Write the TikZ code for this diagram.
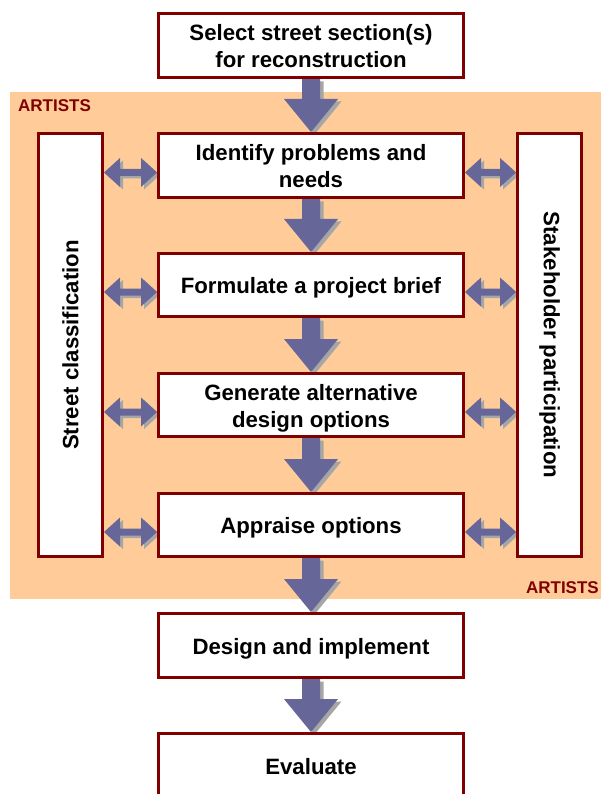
\documentclass[tikz,border=0pt]{standalone}
\usepackage{fontspec}
\setmainfont{Liberation Sans}
\usetikzlibrary{calc}
\definecolor{boxred}{HTML}{800000}
\definecolor{bgorange}{HTML}{FFCC99}
\definecolor{arrowc}{HTML}{666699}
\definecolor{shadowc}{HTML}{A6A6A6}
\pgfdeclarelayer{bg}
\pgfdeclarelayer{arr}
\pgfsetlayers{bg,arr,main}
\newcommand{\flowarrow}[2]{%
  \begin{pgfonlayer}{arr}
  \foreach \dx/\dy/\cc in {3.5/-2.5/shadowc, 0/0/arrowc}{
    \begin{scope}[transform canvas={shift={(\dx pt,\dy pt)}}]
    \fill[\cc] let \p1=(#1.south), \p2=(#2.north) in
      (\x1-9pt,\y1) -- (\x1+9pt,\y1) -- (\x1+9pt,\y2+33pt) -- (\x1+27pt,\y2+33pt)
      -- (\x1,\y2) -- (\x1-27pt,\y2+33pt) -- (\x1-9pt,\y2+33pt) -- cycle;
    \end{scope}
  }
  \end{pgfonlayer}}
\newcommand{\dblarrow}[3]{%
  \begin{pgfonlayer}{arr}
  \foreach \dx/\dy/\cc in {3/-2.5/shadowc, 0/0/arrowc}{
    \begin{scope}[transform canvas={shift={(\dx pt,\dy pt)}}]
    \fill[\cc] let \p1=(#1.east), \p2=(#2.west), \p3=(#3.center) in
      (\x1,\y3-7pt) -- (\x1+16pt,\y3+7.5pt) -- (\x1+16pt,\y3-3.5pt) -- (\x2-16pt,\y3-3.5pt)
      -- (\x2-16pt,\y3+7.5pt) -- (\x2,\y3-7pt) -- (\x2-16pt,\y3-21.5pt) -- (\x2-16pt,\y3-10.5pt)
      -- (\x1+16pt,\y3-10.5pt) -- (\x1+16pt,\y3-21.5pt) -- cycle;
    \end{scope}
  }
  \end{pgfonlayer}}
\begin{document}
\begin{tikzpicture}[x=1pt,y=-1pt,
  stepbox/.style={draw=boxred, line width=3pt, fill=white, minimum width=305pt,
    inner sep=0pt, align=center, text height=20pt, text depth=3pt,
    font=\fontsize{22.2}{27}\selectfont\bfseries},
  twoline/.style={text height=47pt},
  sidebox/.style={draw=boxred, line width=3pt, fill=white, minimum width=64pt,
    minimum height=423pt, inner sep=0pt},
  sidetext/.style={inner sep=0pt, font=\fontsize{22.2}{27}\selectfont\bfseries},
  artlabel/.style={text=boxred, inner sep=0pt, font=\fontsize{17}{20}\selectfont\bfseries}]
\useasboundingbox (0,0) rectangle (601,794);
\clip (0,0) rectangle (601,794);
\begin{pgfonlayer}{bg}
\fill[white] (0,0) rectangle (601,794);
\fill[bgorange] (10,92) rectangle (601,599);
\end{pgfonlayer}
\node[stepbox, twoline, minimum height=64pt] (b1) at (311,45.5) {Select street section(s)\\for reconstruction};
\node[stepbox, twoline, minimum height=64pt] (b2) at (311,165.5) {Identify problems and\\needs};
\node[stepbox, minimum height=63pt] (b3) at (311,285) {Formulate a project brief};
\node[stepbox, twoline, minimum height=63pt] (b4) at (311,405) {Generate alternative\\design options};
\node[stepbox, minimum height=63pt] (b5) at (311,525) {Appraise options};
\node[stepbox, minimum height=64pt] (b6) at (311,645.5) {Design and implement};
\node[stepbox, minimum height=65pt] (b7) at (311,766) {Evaluate};
\node[sidebox] (sl) at (70.5,345) {};
\node[sidetext, rotate=90] (slt) at (sl.center) {Street classification};
\node[sidebox] (sr) at (549.5,345) {};
\node[sidetext, rotate=-90] (srt) at (sr.center) {Stakeholder participation};
\node[artlabel, anchor=base west] (a1) at (18,112) {ARTISTS};
\node[artlabel, anchor=base east] (a2) at (599,593) {ARTISTS};
\flowarrow{b1}{b2}
\flowarrow{b2}{b3}
\flowarrow{b3}{b4}
\flowarrow{b4}{b5}
\flowarrow{b5}{b6}
\flowarrow{b6}{b7}
\dblarrow{sl}{b2}{b2}
\dblarrow{sl}{b3}{b3}
\dblarrow{sl}{b4}{b4}
\dblarrow{sl}{b5}{b5}
\dblarrow{b2}{sr}{b2}
\dblarrow{b3}{sr}{b3}
\dblarrow{b4}{sr}{b4}
\dblarrow{b5}{sr}{b5}
\end{tikzpicture}
\end{document}
